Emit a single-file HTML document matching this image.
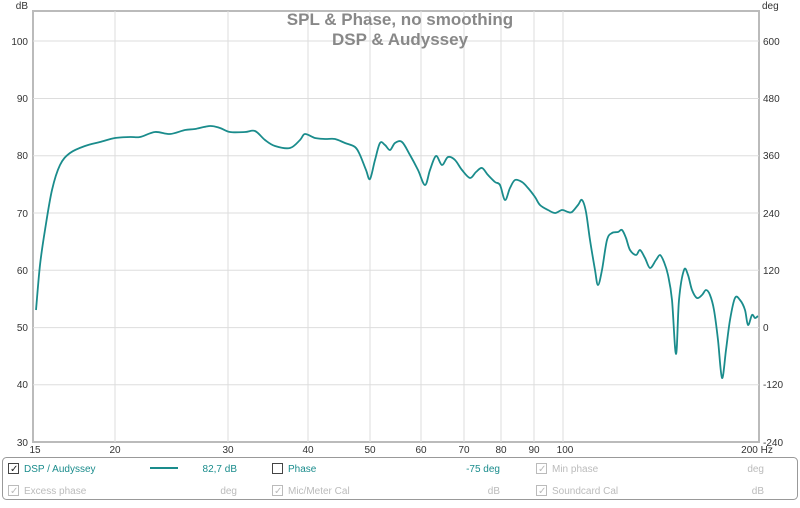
<!DOCTYPE html><html><head><style>
body{margin:0;width:800px;height:503px;background:#fff;font-family:"Liberation Sans",sans-serif;overflow:hidden}
svg text{font-family:"Liberation Sans",sans-serif}
</style></head><body>
<svg width="800" height="503" xmlns="http://www.w3.org/2000/svg">
<rect x="33" y="11" width="726" height="431" fill="#fff" stroke="#bbb" stroke-width="2"/>
<g stroke="#ddd" stroke-width="1">
<line x1="33" x2="759" y1="41" y2="41"/><line x1="33" x2="759" y1="98.5" y2="98.5"/><line x1="33" x2="759" y1="155.8" y2="155.8"/><line x1="33" x2="759" y1="213" y2="213"/><line x1="33" x2="759" y1="270.3" y2="270.3"/><line x1="33" x2="759" y1="327.6" y2="327.6"/><line x1="33" x2="759" y1="384.8" y2="384.8"/>
<line x1="115" x2="115" y1="11" y2="442"/><line x1="228" x2="228" y1="11" y2="442"/><line x1="308" x2="308" y1="11" y2="442"/><line x1="370" x2="370" y1="11" y2="442"/><line x1="421" x2="421" y1="11" y2="442"/><line x1="464" x2="464" y1="11" y2="442"/><line x1="501" x2="501" y1="11" y2="442"/><line x1="534" x2="534" y1="11" y2="442"/><line x1="563" x2="563" y1="11" y2="442"/>
</g>
<g font-size="10" fill="#333" text-anchor="end">
<text x="28" y="9">dB</text>
<text x="28" y="45">100</text><text x="28" y="102">90</text><text x="28" y="159">80</text><text x="28" y="217">70</text><text x="28" y="274">60</text><text x="28" y="331">50</text><text x="28" y="388">40</text><text x="28" y="446">30</text>
</g>
<g font-size="10" fill="#333" text-anchor="start">
<text x="762" y="9">deg</text>
<text x="763" y="45">600</text><text x="763" y="102">480</text><text x="763" y="159">360</text><text x="763" y="217">240</text><text x="763" y="274">120</text><text x="763" y="331">0</text><text x="763" y="388">-120</text><text x="763" y="446">-240</text>
</g>
<g font-size="10" fill="#333" text-anchor="middle">
<text x="35" y="453">15</text><text x="115" y="453">20</text><text x="228" y="453">30</text><text x="308" y="453">40</text><text x="370" y="453">50</text><text x="421" y="453">60</text><text x="464" y="453">70</text><text x="501" y="453">80</text><text x="534" y="453">90</text><text x="565" y="453">100</text><text x="757" y="453">200 Hz</text>
</g>
<text x="400" y="25" font-size="17" fill="#888" text-anchor="middle" font-weight="bold">SPL &amp; Phase, no smoothing</text>
<text x="400" y="45" font-size="17" fill="#888" text-anchor="middle" font-weight="bold">DSP &amp; Audyssey</text>
<path id="curve" fill="none" stroke="#1a8c8c" stroke-width="1.8" stroke-linejoin="round" d="M36,310 L40,265 45,230 52,190 60,165 70,153 85,146 100,142 115,138 130,137 140,137 155,132 170,134 185,130 195,129 210,126 220,128 230,132 245,132 255,131 265,140 275,146 290,148 300,140 305,134 315,138 325,139 335,139 345,143 355,147 360,155 366,170 370,179 375,160 380,143 385,145 390,150 395,143 402,142 410,155 418,170 425,185 430,170 436,156 442,165 448,157 455,160 462,170 470,178 476,172 482,168 488,175 495,182 500,185 505,200 510,188 515,180 522,182 528,188 535,197 540,205 548,210 555,213 562,210 568,212 572,212 578,205 582,200 586,212 590,240 595,270 598,285 602,270 607,240 612,233 618,232 622,230 626,238 630,250 636,255 640,250 645,258 650,268 656,260 660,255 664,262 668,275 672,300 676,354 679,300 684,270 688,275 692,290 697,298 702,295 706,290 710,295 714,310 718,340 722,378 726,350 730,320 735,298 740,300 745,310 748,325 752,315 755,318 758,316"/>
<rect x="2.5" y="457.5" width="795" height="42" rx="4" fill="#fff" stroke="#999"/>
<g font-size="10">
<rect x="8.5" y="463.5" width="10" height="10" fill="#fff" stroke="#444"/><text x="10" y="472" font-size="10" fill="#222">✓</text>
<text x="24" y="472" fill="#1a8c8c">DSP / Audyssey</text>
<line x1="150" x2="178" y1="468" y2="468" stroke="#1a8c8c" stroke-width="2"/>
<text x="237" y="472" fill="#1a8c8c" text-anchor="end">82,7 dB</text>
<rect x="272.5" y="463.5" width="10" height="10" fill="#fff" stroke="#444"/>
<text x="288" y="472" fill="#1a8c8c">Phase</text>
<text x="500" y="472" fill="#1a8c8c" text-anchor="end">-75 deg</text>
<rect x="536.5" y="463.5" width="10" height="10" fill="#fff" stroke="#bbb"/><text x="538" y="472" fill="#bbb">✓</text>
<text x="552" y="472" fill="#bbb">Min phase</text>
<text x="764" y="472" fill="#bbb" text-anchor="end">deg</text>
<rect x="8.5" y="485.5" width="10" height="10" fill="#fff" stroke="#bbb"/><text x="10" y="494" fill="#bbb">✓</text>
<text x="24" y="494" fill="#bbb">Excess phase</text>
<text x="237" y="494" fill="#bbb" text-anchor="end">deg</text>
<rect x="272.5" y="485.5" width="10" height="10" fill="#fff" stroke="#bbb"/><text x="274" y="494" fill="#bbb">✓</text>
<text x="288" y="494" fill="#bbb">Mic/Meter Cal</text>
<text x="500" y="494" fill="#bbb" text-anchor="end">dB</text>
<rect x="536.5" y="485.5" width="10" height="10" fill="#fff" stroke="#bbb"/><text x="538" y="494" fill="#bbb">✓</text>
<text x="552" y="494" fill="#bbb">Soundcard Cal</text>
<text x="764" y="494" fill="#bbb" text-anchor="end">dB</text>
</g>
</svg>
<script>
(function(){var p=document.getElementById('curve');var d=p.getAttribute('d').replace(/[ML]/g,' ').trim().split(/\s+/).map(function(s){return s.split(',').map(Number)});
var o='M'+d[0][0]+','+d[0][1];for(var i=0;i<d.length-1;i++){var a=d[i-1]||d[i],b=d[i],c=d[i+1],e=d[i+2]||c;
var c1x=b[0]+(c[0]-a[0])/6,c1y=b[1]+(c[1]-a[1])/6,c2x=c[0]-(e[0]-b[0])/6,c2y=c[1]-(e[1]-b[1])/6;
o+=' C'+c1x.toFixed(1)+','+c1y.toFixed(1)+' '+c2x.toFixed(1)+','+c2y.toFixed(1)+' '+c[0]+','+c[1];}
p.setAttribute('d',o);})();
</script>
</body></html>
